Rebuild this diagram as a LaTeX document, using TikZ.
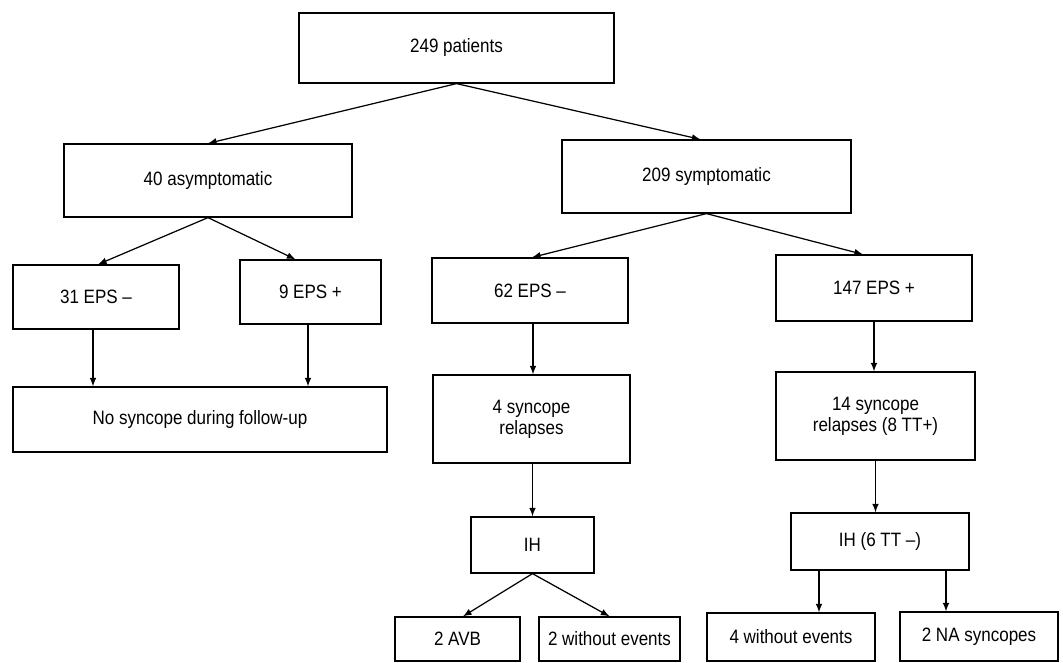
\documentclass[tikz,border=0pt]{standalone}
\usepackage{fontspec}
\setmainfont[FakeStretch=0.88]{Liberation Sans}
\usetikzlibrary{positioning}

\tikzset{
    box/.style={draw, line width=0.7pt, inner sep=0pt, align=center,
        font=\fontsize{11}{12}\selectfont},
    arr/.style={-latex, line width=0.7pt}
}

\begin{document}
\begin{tikzpicture}

    \useasboundingbox (0,0) rectangle (21.26,-13.26);

    \node[box, minimum width=6.30cm, minimum height=1.40cm] (all) at (9.13,-0.96) {249 patients};

    \node[box, minimum width=5.76cm, minimum height=1.46cm] (asym) at (4.16,-3.61) {40 asymptomatic};
    \node[box, minimum width=5.78cm, minimum height=1.46cm] (sym) at (14.13,-3.53) {209 symptomatic};

    \node[box, minimum width=3.32cm, minimum height=1.28cm] (neg31) at (1.92,-5.94) {31 EPS --};
    \node[box, minimum width=2.82cm, minimum height=1.28cm] (pos9) at (6.21,-5.84) {9 EPS +};
    \node[box, minimum width=3.92cm, minimum height=1.30cm] (neg62) at (10.60,-5.81) {62 EPS --};
    \node[box, minimum width=3.92cm, minimum height=1.32cm] (pos147) at (17.48,-5.76) {147 EPS +};

    \node[box, minimum width=7.48cm, minimum height=1.30cm] (nosync) at (4.00,-8.39) {No syncope during follow-up};
    \node[box, minimum width=3.94cm, minimum height=1.76cm] (rel4) at (10.63,-8.38) {4 syncope\\relapses};
    \node[box, minimum width=3.98cm, minimum height=1.76cm] (rel14) at (17.51,-8.32) {14 syncope\\relapses (8 TT+)};

    \node[box, minimum width=2.46cm, minimum height=1.12cm] (ih) at (10.65,-10.90) {IH};
    \node[box, minimum width=3.56cm, minimum height=1.14cm] (ihtt) at (17.60,-10.83) {IH (6 TT --)};

    \node[box, minimum width=2.50cm, minimum height=0.88cm] (avb) at (9.15,-12.78) {2 AVB};
    \node[box, minimum width=2.82cm, minimum height=0.88cm] (noev2) at (12.19,-12.78) {2 without events};
    \node[box, minimum width=3.36cm, minimum height=0.96cm] (noev4) at (15.82,-12.74) {4 without events};
    \node[box, minimum width=3.16cm, minimum height=0.98cm] (na) at (19.58,-12.73) {2 NA syncopes};

    \draw[arr] (all.south) -- (asym.north);
    \draw[arr] (all.south) -- ([xshift=-0.12cm]sym.north);

    \draw[arr] (asym.south) -- ([xshift=0.04cm]neg31.north);
    \draw[arr] (asym.south) -- ([xshift=-0.30cm]pos9.north);
    \draw[arr] (sym.south) -- ([xshift=0.04cm]neg62.north);
    \draw[arr] (sym.south) -- ([xshift=-0.22cm]pos147.north);

    \draw[arr] ([xshift=-0.06cm]neg31.south) -- ([xshift=-0.06cm]neg31.south |- nosync.north);
    \draw[arr] ([xshift=-0.05cm]pos9.south) -- ([xshift=-0.05cm]pos9.south |- nosync.north);
    \draw[arr] ([xshift=0.06cm]neg62.south) -- ([xshift=0.06cm]neg62.south |- rel4.north);
    \draw[arr] (pos147.south) -- (pos147.south |- rel14.north);

    \draw[arr] ([xshift=0.02cm]rel4.south) -- ([xshift=0.02cm]rel4.south |- ih.north);
    \draw[arr] (rel14.south) -- (rel14.south |- ihtt.north);

    \draw[arr] (ih.south) -- ([xshift=0.11cm]avb.north);
    \draw[arr] (ih.south) -- (noev2.north);
    \draw[arr] ([xshift=-1.22cm]ihtt.south) -- ([xshift=-1.22cm]ihtt.south |- noev4.north);
    \draw[arr] ([xshift=1.32cm]ihtt.south) -- ([xshift=1.32cm]ihtt.south |- na.north);

\end{tikzpicture}
\end{document}
